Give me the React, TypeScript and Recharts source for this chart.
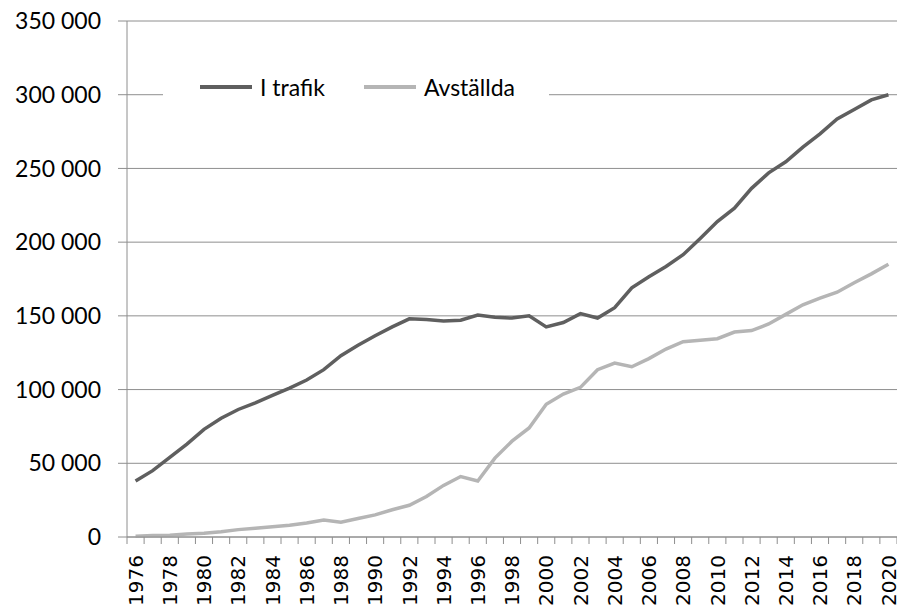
import React from "react";
import { LineChart, Line, XAxis, YAxis, CartesianGrid, Legend } from "recharts";

const YEARS = [
  1976, 1977, 1978, 1979, 1980, 1981, 1982, 1983, 1984, 1985, 1986, 1987, 1988, 1989, 1990,
  1991, 1992, 1993, 1994, 1995, 1996, 1997, 1998, 1999, 2000, 2001, 2002, 2003, 2004, 2005,
  2006, 2007, 2008, 2009, 2010, 2011, 2012, 2013, 2014, 2015, 2016, 2017, 2018, 2019, 2020,
];

const I_TRAFIK = [
  38000, 45000, 54000, 63000, 73000, 80500, 86500, 91000, 96000, 101000, 106500, 113500, 123000,
  130000, 136500, 142500, 148000, 147500, 146500, 147000, 150500, 149000, 148500, 150000, 142500,
  145500, 151500, 148500, 155500, 169000, 176500, 183500, 191500, 202500, 214000, 223000, 236500,
  247000, 254500, 264500, 273500, 283500, 290000, 296500, 300000,
];

const AVSTALLDA = [
  500, 1000, 1200, 2000, 2500, 3500, 5000, 6000, 7000, 8000, 9500, 11500, 10000, 12500, 15000,
  18500, 21500, 27500, 35000, 41000, 38000, 53500, 65000, 74000, 90000, 97000, 101500, 113500,
  118000, 115500, 121000, 127500, 132500, 133500, 134500, 139000, 140000, 144500, 151000, 157500,
  162000, 166000, 172500, 178500, 185000,
];

const Y_TICKS = [0, 50000, 100000, 150000, 200000, 250000, 300000, 350000];

const SERIES = [
  { key: "trafik", name: "I trafik", color: "#5f5f5f" },
  { key: "avstallda", name: "Avställda", color: "#b5b5b5" },
];

const data = YEARS.map((year, i) => ({
  year,
  trafik: I_TRAFIK[i],
  avstallda: AVSTALLDA[i],
}));

// category boundaries, so the tick marks sit between the years
const BOUNDS = [YEARS[0] - 0.5, ...YEARS.map((y) => y + 0.5)];

const W = 897;
const H = 610;
const Y_AXIS_W = 127;
const STEP = (W - Y_AXIS_W) / YEARS.length;

const GRID = "#8e8e8e";
const LABEL_FONT = "Lato, 'Open Sans', sans-serif";

const fmt = (v: number) => String(v).replace(/\B(?=(\d{3})+(?!\d))/g, " ");

function YearTick(props: any) {
  const { x, y, payload } = props;
  const year = payload.value + 0.5;
  if (year > YEARS[YEARS.length - 1] || year % 2 !== 0) return null;
  return (
    <text
      x={0}
      y={0}
      transform={`translate(${x + STEP / 2},${y + 9}) rotate(-90)`}
      textAnchor="end"
      dy="0.36em"
      fontFamily="'DejaVu Sans', sans-serif"
      fontSize={20}
      fill="#000"
    >
      {year}
    </text>
  );
}

function LegendBox() {
  return (
    <div
      style={{
        background: "#fff",
        height: 32,
        width: 386,
        display: "flex",
        alignItems: "center",
        paddingLeft: 37,
        boxSizing: "border-box",
        fontFamily: LABEL_FONT,
        fontSize: 23,
        color: "#000",
      }}
    >
      {SERIES.map((s, i) => (
        <div key={s.key} style={{ display: "flex", alignItems: "center", marginRight: i === 0 ? 39 : 0 }}>
          <span style={{ display: "inline-block", width: 52, height: 4, background: s.color, marginRight: 8 }} />
          <span>{s.name}</span>
        </div>
      ))}
    </div>
  );
}

export default function App() {
  return (
    <div style={{ position: "absolute", left: 0, top: 0, width: W, height: H, background: "#fff" }}>
      <LineChart width={W} height={H} data={data} margin={{ top: 21, right: 0, bottom: 0, left: 0 }}>
        <CartesianGrid horizontal vertical={false} stroke={GRID} strokeWidth={1} />
        <XAxis
          dataKey="year"
          type="number"
          domain={[BOUNDS[0], BOUNDS[BOUNDS.length - 1]]}
          ticks={BOUNDS}
          interval={0}
          height={73}
          tickSize={7}
          axisLine={{ stroke: GRID }}
          tickLine={{ stroke: GRID }}
          tick={<YearTick />}
        />
        <YAxis
          width={Y_AXIS_W}
          domain={[0, 350000]}
          ticks={Y_TICKS}
          interval={0}
          tickSize={9}
          tickMargin={17}
          axisLine={{ stroke: GRID }}
          tickLine={{ stroke: GRID }}
          tickFormatter={fmt}
          tick={{ fill: "#000", fontSize: 23, fontFamily: LABEL_FONT }}
        />
        <Legend
          verticalAlign="middle"
          content={() => <LegendBox />}
          wrapperStyle={{ top: 71, left: 163, width: 386 }}
        />
        {SERIES.map((s) => (
          <Line
            key={s.key}
            dataKey={s.key}
            name={s.name}
            stroke={s.color}
            strokeWidth={3.5}
            dot={false}
            type="linear"
            isAnimationActive={false}
          />
        ))}
      </LineChart>
    </div>
  );
}
